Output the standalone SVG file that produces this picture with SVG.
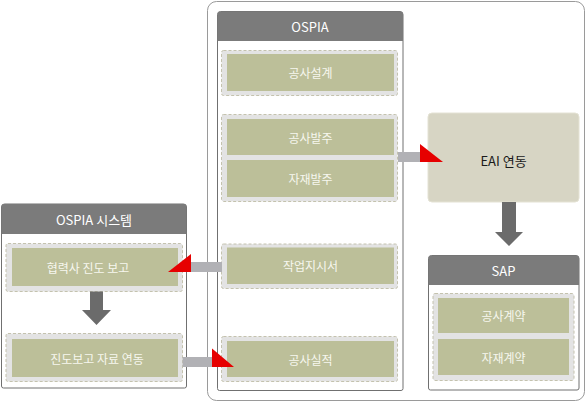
<svg xmlns="http://www.w3.org/2000/svg" width="586" height="402" viewBox="0 0 586 402">
<style>
.panel{fill:#ffffff;stroke:#707070;stroke-width:1}
.hdr{fill:#7b7b7b}
.grp{fill:#e3e3e3;stroke:#c4c2ae;stroke-width:1;stroke-dasharray:3 2}
.box{fill:#bcbf99}
.t{font-family:"Noto Sans CJK KR","Noto Sans",sans-serif;font-size:12px;fill:#f7f7ef;text-anchor:middle;dominant-baseline:central}
.ht{font-family:"Noto Sans CJK KR","Noto Sans",sans-serif;font-size:13px;fill:#ffffff;text-anchor:middle;dominant-baseline:central}
.bar{fill:#b1b1b5}
.red{fill:#e60000}
.dark{fill:#6b6b6b}
</style>
<rect x="207.5" y="1.5" width="377" height="399" rx="9" fill="#ffffff" stroke="#9a9a9a" stroke-width="1"/>

<g id="ospia">
<path class="panel" d="M217.5,14.5 a3,3 0 0 1 3,-3 h179.5 a3,3 0 0 1 3,3 v374 a2,2 0 0 1 -2,2 h-181.5 a2,2 0 0 1 -2,-2 z"/>
<path class="hdr" d="M217.5,14.5 a3,3 0 0 1 3,-3 h179.5 a3,3 0 0 1 3,3 v26.5 h-185.5 z"/>
<text class="ht" x="310" y="26.5">OSPIA</text>
</g>
<g id="g-design">
<rect class="grp" x="221.5" y="50.5" width="176" height="45" rx="2"/>
<rect class="box" x="227" y="54" width="167" height="37"/>
<text class="t" x="310.5" y="72">공사설계</text>
</g>
<g id="g-order">
<rect class="grp" x="221.5" y="114.5" width="176" height="87" rx="2"/>
<rect class="box" x="227" y="119" width="167" height="36"/>
<text class="t" x="310.5" y="137">공사발주</text>
<rect class="box" x="227" y="160" width="167" height="37"/>
<text class="t" x="310.5" y="178.5">자재발주</text>
</g>
<g id="g-work">
<rect class="grp" x="221.5" y="244" width="176" height="44.5" rx="2"/>
<rect class="box" x="227" y="247.5" width="167" height="36.5"/>
<text class="t" x="310.5" y="265.5">작업지시서</text>
</g>
<g id="g-result">
<rect class="grp" x="221.5" y="336.5" width="176" height="45" rx="2"/>
<rect class="box" x="227" y="341" width="167" height="36"/>
<text class="t" x="310.5" y="359">공사실적</text>
</g>

<g id="eai">
<rect x="428" y="113" width="151" height="89" rx="4" fill="#d7d5c4" stroke="#e4e2d4" stroke-width="1"/>
<text x="503.5" y="160" font-family="'Noto Sans CJK KR','Noto Sans',sans-serif" font-size="13" fill="#1a1a1a" text-anchor="middle" dominant-baseline="central">EAI 연동</text>
</g>

<g id="sap">
<path class="panel" d="M428.5,258.5 a3,3 0 0 1 3,-3 h144.5 a3,3 0 0 1 3,3 v129.5 a2,2 0 0 1 -2,2 h-146.5 a2,2 0 0 1 -2,-2 z"/>
<path class="hdr" d="M428.5,258.5 a3,3 0 0 1 3,-3 h144.5 a3,3 0 0 1 3,3 v26.5 h-150.5 z"/>
<text class="ht" x="503.5" y="270.5">SAP</text>
</g>
<g id="g-contract">
<rect class="grp" x="433" y="293.5" width="141" height="87" rx="2"/>
<rect class="box" x="438" y="298" width="131" height="35"/>
<text class="t" x="503.5" y="315.5">공사계약</text>
<rect class="box" x="438" y="339" width="131" height="36"/>
<text class="t" x="503.5" y="357">자재계약</text>
</g>

<g id="ospia-sys">
<path class="panel" d="M1.5,207 a3,3 0 0 1 3,-3 h179 a3,3 0 0 1 3,3 v179 a2,2 0 0 1 -2,2 h-181 a2,2 0 0 1 -2,-2 z"/>
<path class="hdr" d="M1.5,207 a3,3 0 0 1 3,-3 h179 a3,3 0 0 1 3,3 v27 h-185 z"/>
<text class="ht" x="94" y="219.5">OSPIA 시스템</text>
</g>
<g id="g-report">
<rect class="grp" x="6" y="243.5" width="176.5" height="48" rx="2"/>
<rect class="box" x="12" y="248" width="166" height="38"/>
<text class="t" x="88" y="267">협력사 진도 보고</text>
</g>
<g id="g-link">
<rect class="grp" x="6" y="333.5" width="176.5" height="48" rx="2"/>
<rect class="box" x="12" y="339" width="166" height="38"/>
<text class="t" x="97" y="358">진도보고 자료 연동</text>
</g>

<g id="connectors">
<rect class="bar" x="398" y="152" width="22" height="10"/>
<polygon class="red" points="420,144 420,162 443,162"/>
<rect class="bar" x="191" y="262" width="31" height="10"/>
<polygon class="red" points="191,254 191,272 168,272"/>
<rect class="bar" x="182.5" y="357" width="30" height="10"/>
<polygon class="red" points="212,348.5 212,367 234,367"/>
<polygon class="dark" points="502,202 516,202 516,232 523,232 509,246 495,232 502,232"/>
<polygon class="dark" points="90,291.5 103,291.5 103,310 111,310 96.5,325 82,310 90,310"/>
</g>
</svg>
